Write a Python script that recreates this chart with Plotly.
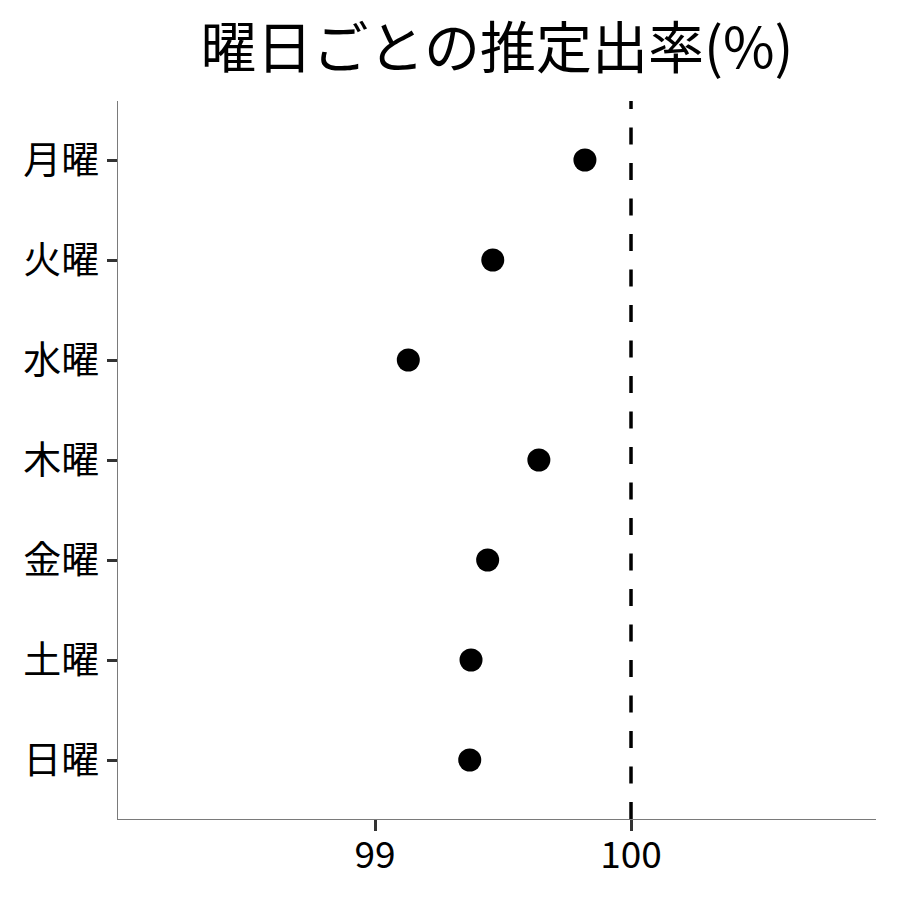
import plotly.graph_objects as go

days = ["月曜", "火曜", "水曜", "木曜", "金曜", "土曜", "日曜"]
rates = [99.82, 99.46, 99.13, 99.64, 99.44, 99.375, 99.37]
x_ticks = [99, 100]
ref_value = 100

FONT = "Noto Sans CJK JP"

fig = go.Figure()
fig.add_trace(go.Scatter(
    x=rates, y=days, mode="markers",
    marker=dict(size=23, color="black"),
    showlegend=False, cliponaxis=False,
))
fig.add_shape(type="line", xref="x", yref="paper",
              x0=ref_value, x1=ref_value, y0=0, y1=1,
              line=dict(color="black", width=3.5, dash="17px,18.5px"))

fig.update_layout(
    width=900, height=900,
    margin=dict(l=110, r=32, t=93, b=89, autoexpand=False),
    paper_bgcolor="white", plot_bgcolor="white",
    font=dict(family=FONT, color="black"),
    title=dict(text="曜日ごとの推定出率(%)", x=(110 + 868) / 2 / 900, xanchor="center",
               y=1 - 40 / 900, yanchor="middle", yref="container",
               font=dict(size=56, family=FONT, color="black")),
)
fig.update_xaxes(
    range=[97.996, 100.957], tickvals=x_ticks, ticktext=[str(v) for v in x_ticks],
    showgrid=False, zeroline=False, automargin=False,
    showline=True, linecolor="#7a7a7a", linewidth=1.3,
    ticks="outside", ticklen=11, tickwidth=3, tickcolor="#333333",
    tickfont=dict(size=37, color="black", family=FONT),
    ticklabelstandoff=-8,
)
fig.update_yaxes(
    type="category", categoryorder="array", categoryarray=days[::-1],
    range=[-0.59, 6.59],
    showgrid=False, zeroline=False, automargin=False,
    showline=True, linecolor="#7a7a7a", linewidth=1.3,
    ticks="outside", ticklen=10, tickwidth=3, tickcolor="#333333",
    tickfont=dict(size=38, color="black", family=FONT),
    ticklabelstandoff=0,
)

fig.write_html("out.html")
